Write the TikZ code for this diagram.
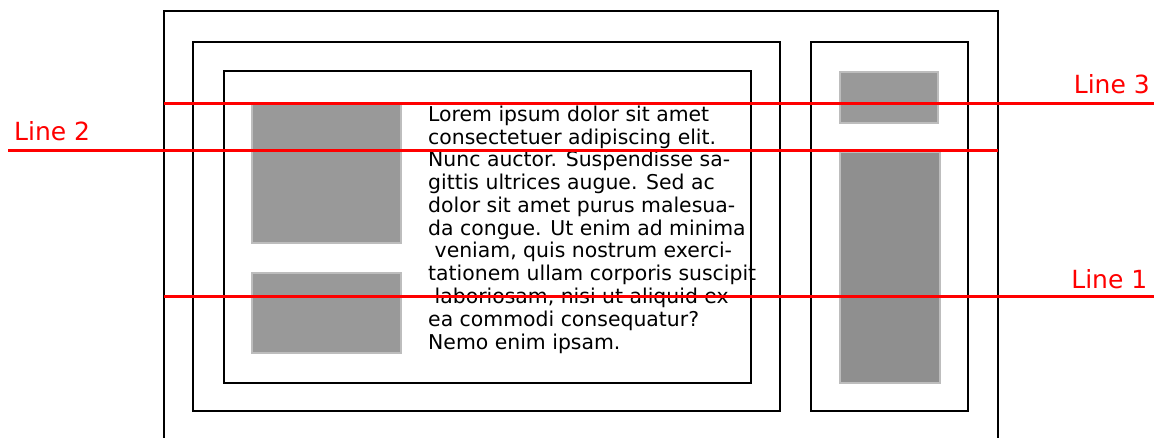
\documentclass[tikz,border=0pt]{standalone}
\usepackage{fontspec}
\setmainfont{DejaVu Sans}
\definecolor{boxgray}{HTML}{999999}
\definecolor{boxgraydark}{HTML}{8F8F8F}
\definecolor{boxedge}{HTML}{BDBDBD}
\begin{document}
\begin{tikzpicture}[x=1pt,y=-1pt,
  frame/.style={draw=black,line width=2.5pt},
  block/.style={fill=boxgray,draw=boxedge,line width=1.4pt},
  blockdark/.style={fill=boxgraydark,draw=boxedge,line width=1.4pt},
  guide/.style={draw=red,line width=3pt},
  guidelabel/.style={text=red,font=\fontsize{25}{30}\selectfont,inner sep=0pt},
  bodytext/.style={font=\fontsize{20.4}{22.75}\selectfont,inner sep=0pt,anchor=base west}]
\useasboundingbox (0,0) rectangle (1154,438);
\fill[white] (0,0) rectangle (1154,438);

% page frame, open at the bottom
\draw[frame] (164,440) -- (164,11) -- (998,11) -- (998,440);
% main column and its content box
\draw[frame] (193,42) rectangle (780,411);
\draw[frame] (224,71) rectangle (751,383);
% sidebar
\draw[frame] (811,42) rectangle (968,411);

% image placeholders
\draw[block] (252,104) rectangle (401,243);
\draw[block] (252,273) rectangle (401,353);
\draw[block] (840,72) rectangle (938,123);
\draw[blockdark] (840,152) rectangle (940,383);

% body text
\foreach \txt [count=\i] in {
  Lorem ipsum dolor sit amet,
  consectetuer adipiscing elit.,
  Nunc auctor. Suspendisse sa-,
  gittis ultrices augue. Sed ac,
  dolor sit amet purus malesua-,
  da congue. Ut enim ad minima,
  {\hspace*{.318em}veniam, quis nostrum exerci-},
  tationem ullam corporis suscipit,
  {\hspace*{.318em}laboriosam, nisi ut aliquid ex},
  ea commodi consequatur?,
  Nemo enim ipsam.}
  \node[bodytext] (t\i) at (428,{121.5+22.75*(\i-1)}) {\txt};

% guide lines with labels
\coordinate (l3a) at (164,104);  \coordinate (l3b) at (1154,104);
\coordinate (l2a) at (8,151);    \coordinate (l2b) at (998,151);
\coordinate (l1a) at (164,297);  \coordinate (l1b) at (1154,297);
\draw[guide] (l3a) -- (l3b);
\draw[guide] (l2a) -- (l2b);
\draw[guide] (l1a) -- (l1b);
\node[guidelabel,anchor=base east] (lab3) at (1150,93.3) {Line 3};
\node[guidelabel,anchor=base west] (lab2) at (14,141) {Line 2};
\node[guidelabel,anchor=base east] (lab1) at (1147.5,288.3) {Line 1};
\end{tikzpicture}
\end{document}
